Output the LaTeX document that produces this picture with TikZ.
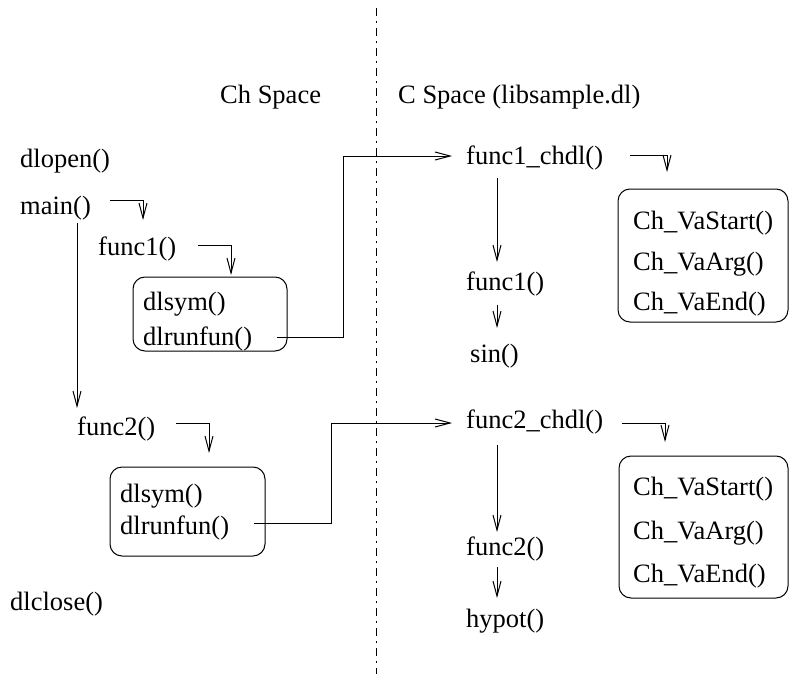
\documentclass[tikz,border=0pt]{standalone}
\usepackage{fontspec}
\setmainfont{Liberation Serif}
\usetikzlibrary{arrows.meta,calc}
\begin{document}
\begin{tikzpicture}[x=1pt,y=-1pt,
  lbl/.style={anchor=west,inner sep=0pt,font=\fontsize{26.5}{31}\selectfont,text height=20pt,text depth=6pt},
  rbox/.style={draw,line width=1pt,rounded corners=12pt,inner sep=0pt},
  conn/.style={line width=1pt},
  arr/.style={conn,-{Straight Barb[length=15pt,width=8pt]}},
  divider/.style={line width=1pt,dash pattern=on 8pt off 5pt on 2pt off 5pt}]
\useasboundingbox (0,0) rectangle (789,674);
% divider
\coordinate (dtop) at (376,8);
\coordinate (dbot) at (376,674);
\draw[divider] (dtop) -- (dbot);
% headings
\node[lbl] (chspace) at (220,97) {Ch Space};
\node[lbl] (cspace) at (398,97) {C Space (libsample.dl)};
% Ch space
\node[lbl] (dlopen) at (20,160) {dlopen()};
\node[lbl] (main) at (20,207) {main()};
\node[lbl] (func1) at (98,248) {func1()};
\node[rbox,minimum width=154pt,minimum height=74pt] (box1) at (210,314) {};
\node[lbl] (dlsym1) at (143,303) {dlsym()};
\node[lbl] (dlrun1) at (143,338) {dlrunfun()};
\node[lbl] (func2) at (77,428) {func2()};
\node[rbox,minimum width=155pt,minimum height=89pt] (box2) at (187.5,511.5) {};
\node[lbl] (dlsym2) at (120,495) {dlsym()};
\node[lbl] (dlrun2) at (120,527) {dlrunfun()};
\node[lbl] (dlclose) at (10,603) {dlclose()};
% C space
\node[lbl] (f1chdl) at (466,157) {func1\_chdl()};
\node[lbl] (f1) at (466,283) {func1()};
\node[lbl] (sin) at (470,355) {sin()};
\node[rbox,minimum width=170pt,minimum height=133pt] (cbox1) at (703,255.5) {};
\node[lbl] (cstart1) at (633,222) {Ch\_VaStart()};
\node[lbl] (carg1) at (633,263) {Ch\_VaArg()};
\node[lbl] (cend1) at (633,303) {Ch\_VaEnd()};
\node[lbl] (f2chdl) at (466,421) {func2\_chdl()};
\node[lbl] (f2) at (466,548) {func2()};
\node[lbl] (hypot) at (466,620) {hypot()};
\node[rbox,minimum width=169pt,minimum height=142pt] (cbox2) at (703.5,527) {};
\node[lbl] (cstart2) at (633,488) {Ch\_VaStart()};
\node[lbl] (carg2) at (633,532) {Ch\_VaArg()};
\node[lbl] (cend2) at (633,575) {Ch\_VaEnd()};
% connector end points
\coordinate (mainS) at (110,200);
\coordinate (mainT) at (143,220);
\coordinate (mainV) at (77,223);
\coordinate (mainVT) at (77,408);
\coordinate (f1S) at (198,245);
\coordinate (f1T) at (231,275);
\coordinate (r1S) at (277,337);
\coordinate (r1B) at (343,156);
\coordinate (r1T) at (452,156);
\coordinate (c1S) at (497,178);
\coordinate (c1T) at (497,262);
\coordinate (s1S) at (497,305);
\coordinate (s1T) at (497,328);
\coordinate (v1S) at (630,155);
\coordinate (v1T) at (667,172);
\coordinate (f2S) at (176,423);
\coordinate (f2T) at (209,453);
\coordinate (r2S) at (254,523);
\coordinate (r2B) at (331,423);
\coordinate (r2T) at (452,423);
\coordinate (c2S) at (497,445);
\coordinate (c2T) at (497,532);
\coordinate (h2S) at (497,567);
\coordinate (h2T) at (497,598);
\coordinate (v2S) at (622,423);
\coordinate (v2T) at (665,442);
% connectors
\draw[arr] (mainS) -| (mainT);
\draw[arr] (mainV) -- (mainVT);
\draw[arr] (f1S) -| (f1T);
\draw[arr] (r1S) -| (r1B) -- (r1T);
\draw[arr] (c1S) -- (c1T);
\draw[arr] (s1S) -- (s1T);
\draw[arr] (v1S) -| (v1T);
\draw[arr] (f2S) -| (f2T);
\draw[arr] (r2S) -| (r2B) -- (r2T);
\draw[arr] (c2S) -- (c2T);
\draw[arr] (h2S) -- (h2T);
\draw[arr] (v2S) -| (v2T);
\end{tikzpicture}
\end{document}
